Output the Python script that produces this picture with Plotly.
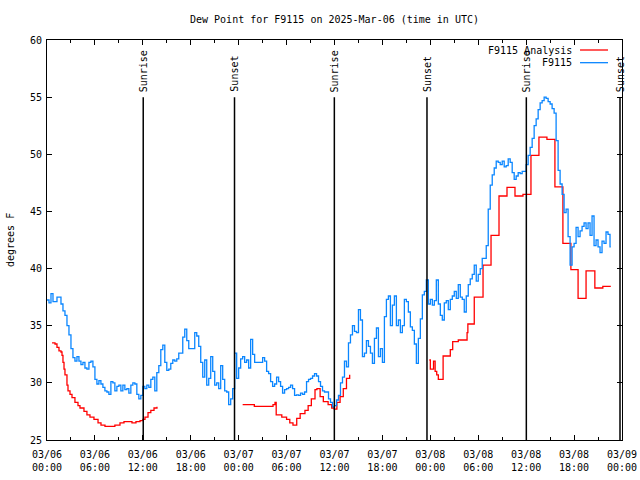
import pandas as pd
import plotly.graph_objects as go

# ---------------- data ----------------
title_text = "Dew Point for F9115 on 2025-Mar-06 (time in UTC)"
y_title = "degrees F"
start_time = "2025-03-06 00:00"

# F9115 observations, one value every 15 minutes from 03/06 00:00
obs_step_minutes = 15
obs_values = [
    37.25, 37.0, 37.8, 37.1,  37.1, 37.5, 37.5, 36.9,  36.3, 35.9, 35.0, 34.2,
    33.0, 32.2, 31.9, 32.3,  31.9, 31.6, 31.8, 31.3,  31.2, 31.8, 31.9, 31.4,
    30.3, 29.9, 30.2, 29.9,  29.6, 29.3, 29.2, 29.0,  30.1, 30.0, 29.3, 29.7,
    29.8, 29.3, 29.8, 29.4,  29.5, 29.1, 29.8, 30.0,  29.9, 29.0, 28.6, 28.9,
    29.7, 29.5, 29.8, 29.6,  30.3, 30.5, 29.3, 30.9,  31.5, 32.9, 33.3, 31.8,
    31.1, 31.2, 31.7, 32.0,  31.9, 32.1, 32.6, 32.6,  34.0, 34.7, 33.7, 33.0,
    33.0, 33.0, 34.4, 34.1,  33.2, 31.8, 30.5, 32.0,  29.8, 30.4, 32.3, 31.0,
    29.8, 30.0, 29.5, 31.5,  30.3, 29.3, 29.2, 28.1,  28.6, 29.5, 32.6, 30.4,
    31.3, 32.1, 32.3, 31.8,  32.0, 31.3, 33.8, 32.5,  31.8, 31.8, 31.8, 31.8,
    32.2, 31.9, 31.0, 30.8,  30.1, 29.7, 29.9, 30.5,  30.1, 29.7, 29.1, 29.4,
    29.5, 29.6, 29.8, 29.5,  28.9, 28.95, 28.9, 29.1,  29.0, 29.2, 30.1, 30.3,
    30.4, 30.6, 30.8, 30.6,  30.1, 29.7, 29.3, 29.2,  29.2, 28.6, 28.3, 27.9,
    28.0, 28.5, 28.9, 30.0,  30.5, 31.9, 31.4, 33.5,  34.2, 35.0, 34.5, 34.4,
    36.4, 35.5, 32.3, 32.6,  33.7, 33.2, 32.6, 31.7,  33.9, 34.8, 32.3, 33.0,
    31.8, 35.8, 37.3, 37.6,  35.0, 36.8, 37.6, 35.0,  35.5, 34.4, 35.0, 37.3,
    37.1, 36.2, 34.9, 34.6,  33.4, 31.7, 33.9, 35.6,  37.7, 38.0, 39.0, 36.9,
    37.3, 36.8, 37.2, 39.0,  36.9, 35.9, 35.5, 37.0,  37.2, 36.4, 37.3, 37.6,
    38.0, 37.4, 38.6, 37.5,  37.3, 36.2, 37.6, 38.6,  39.1, 39.5, 40.3, 38.9,
    39.5, 40.0, 40.9, 40.9,  42.0, 45.2, 47.3, 48.2,  48.8, 49.4, 49.3, 49.1,
    49.4, 48.9, 49.0, 49.6,  49.3, 48.4, 47.8, 48.1,  48.4, 48.3, 48.5, 48.5,
    49.1, 49.9, 50.6, 51.4,  52.5, 53.1, 53.9, 54.5,  54.7, 55.0, 54.9, 54.6,
    54.4, 54.0, 53.6, 51.2,  48.6, 47.4, 46.5, 44.9,  45.2, 42.8, 40.3, 41.9,
    42.2, 43.6, 42.8, 43.3,  43.7, 44.0, 43.5, 44.0,  42.9, 44.6, 42.0, 42.5,
    41.9, 41.4, 42.4, 42.2,  43.2, 43.0, 41.9,
]
obs_end_hour = 70.6

# F9115 Analysis: (hours since start, value) in three separate runs
ana_run1_hours = [0.63, 1.0, 1.25, 1.5, 1.75, 1.88, 2.0, 2.13, 2.25, 2.5, 2.63, 2.88, 3.13, 3.5,
                  3.88, 4.13, 4.63, 5.0, 5.38, 5.88, 6.39, 6.76, 7.26, 8.5, 9.14, 9.64, 10.64,
                  11.14, 11.65, 12.0, 12.27, 12.65, 13.0, 13.4, 13.77]
ana_run1_values = [33.5, 33.4, 33.1, 32.8, 32.7, 32.4, 31.8, 31.2, 30.7, 29.8, 29.3, 29.0, 28.7, 28.3,
                   28.0, 27.8, 27.5, 27.2, 27.0, 26.8, 26.5, 26.3, 26.2, 26.3, 26.5, 26.6, 26.5,
                   26.6, 26.7, 26.8, 27.0, 27.4, 27.6, 27.8, 27.9]
ana_run2_hours = [24.5, 25.96, 28.3, 28.55, 28.7, 29.4, 30.0, 30.4, 30.8, 31.27, 31.7, 32.3, 32.7,
                  33.1, 33.56, 33.8, 34.2, 34.6, 35.2, 35.65, 35.97, 36.3, 36.7, 37.1, 37.5, 37.9]
ana_run2_values = [28.1, 27.95, 28.1, 28.3, 27.2, 27.0, 26.8, 26.5, 26.3, 26.9, 27.3, 27.6, 28.0,
                   28.6, 29.4, 29.5, 28.8, 28.35, 28.1, 27.8, 27.7, 28.3, 28.8, 29.5, 30.4, 30.7]
ana_run3_hours = [47.87, 48.0, 48.4, 48.6, 48.8, 49.0, 49.6, 50.5, 50.8, 51.5, 52.6, 52.7, 53.5,
                  54.6, 55.6, 56.6, 57.6, 58.6, 59.6, 60.6, 61.6, 62.6, 63.6, 64.6, 65.6, 66.5,
                  67.5, 68.6, 69.6, 70.6]
ana_run3_values = [32.0, 31.2, 31.9, 31.0, 30.7, 30.3, 32.35, 32.9, 33.6, 33.75, 34.4, 35.15, 37.5,
                   40.3, 42.9, 46.35, 47.1, 46.35, 46.5, 49.9, 51.5, 51.3, 47.15, 42.2, 39.9, 37.4,
                   39.8, 38.3, 38.45, 38.45]

# sunrise / sunset markers (hours since start)
sun_hours = [12.05, 23.48, 35.98, 47.58, 60.02, 71.75]
sun_labels = ["Sunrise", "Sunset", "Sunrise", "Sunset", "Sunrise", "Sunset"]
sun_line_top = 55

x_tick_hours = [0, 6, 12, 18, 24, 30, 36, 42, 48, 54, 60, 66, 72]
x_tick_labels = ["03/06<br>00:00", "03/06<br>06:00", "03/06<br>12:00", "03/06<br>18:00",
                 "03/07<br>00:00", "03/07<br>06:00", "03/07<br>12:00", "03/07<br>18:00",
                 "03/08<br>00:00", "03/08<br>06:00", "03/08<br>12:00", "03/08<br>18:00",
                 "03/09<br>00:00"]
y_range = [25, 60]
y_tick_step = 5

series_names = ["F9115 Analysis", "F9115"]
series_colors = ["#ff0000", "#0a86ff"]

# ---------------- build ----------------
t0 = pd.Timestamp(start_time)
def at(h):
    return t0 + pd.Timedelta(hours=h)

obs_x = [t0 + pd.Timedelta(minutes=obs_step_minutes * i) for i in range(len(obs_values))]
obs_x.append(at(obs_end_hour))
obs_y = list(obs_values) + [obs_values[-1]]

ana_x, ana_y = [], []
for hs, vs in [(ana_run1_hours, ana_run1_values), (ana_run2_hours, ana_run2_values),
               (ana_run3_hours, ana_run3_values)]:
    ana_x += [at(h) for h in hs] + [None]
    ana_y += list(vs) + [None]

FONT = "DejaVu Sans Mono"
FIG_W, FIG_H = 640, 480

fig = go.Figure()
fig.add_trace(go.Scatter(x=ana_x, y=ana_y, mode="lines", name=series_names[0],
                         line=dict(color=series_colors[0], width=1.3, shape="hv"),
                         connectgaps=False, showlegend=False))
fig.add_trace(go.Scatter(x=obs_x, y=obs_y, mode="lines", name=series_names[1],
                         line=dict(color=series_colors[1], width=1.3, shape="hv"),
                         showlegend=False))

shapes = []
annotations = []
for h, lab in zip(sun_hours, sun_labels):
    shapes.append(dict(type="line", xref="x", yref="y", x0=at(h), x1=at(h),
                       y0=y_range[0], y1=sun_line_top, line=dict(color="black", width=1.5)))
    annotations.append(dict(x=at(h), y=sun_line_top, xref="x", yref="y", text=lab,
                            textangle=-90, showarrow=False, xanchor="center", yanchor="bottom",
                            yshift=3, font=dict(family=FONT, size=10, color="black")))

# legend drawn gnuplot style: text right-aligned, sample line to the right
for i, (nm, col) in enumerate(zip(series_names, series_colors)):
    yy = 0.975 - i * 0.0317
    annotations.append(dict(x=0.9165, y=yy, xref="paper", yref="paper", text=nm,
                            showarrow=False, xanchor="right", yanchor="middle",
                            font=dict(family=FONT, size=10, color="black")))
    shapes.append(dict(type="line", xref="paper", yref="paper", x0=0.927, x1=0.9757,
                       y0=yy, y1=yy, line=dict(color=col, width=1.3)))

annotations.append(dict(x=-0.0643, y=0.5, xref="paper", yref="paper", text=y_title,
                        textangle=-90, showarrow=False, xanchor="center", yanchor="middle",
                        font=dict(family=FONT, size=10, color="black")))

fig.update_layout(
    width=FIG_W, height=FIG_H,
    margin=dict(l=47, r=18, t=40, b=40),
    paper_bgcolor="white", plot_bgcolor="white",
    font=dict(family=FONT, size=10, color="black"),
    title=dict(text=title_text, x=0.5, xref="paper", y=1 - 19 / FIG_H, yref="container",
               xanchor="center", yanchor="middle", font=dict(family=FONT, size=10)),
    shapes=shapes, annotations=annotations, showlegend=False,
)
fig.update_xaxes(
    range=[at(0), at(72)], type="date",
    tickvals=[at(h) for h in x_tick_hours], ticktext=x_tick_labels,
    ticks="inside", ticklen=5, tickcolor="black", tickwidth=1,
    showline=True, linecolor="black", linewidth=1, mirror="ticks",
    showgrid=False, zeroline=False, ticklabelstandoff=5, automargin=False,
    minor=dict(tickvals=[at(h + 3) for h in x_tick_hours[:-1]], ticks="inside", ticklen=3,
               tickcolor="black", showgrid=False),
)
fig.update_yaxes(
    range=y_range, dtick=y_tick_step, tick0=y_range[0],
    ticks="inside", ticklen=5, tickcolor="black", tickwidth=1,
    showline=True, linecolor="black", linewidth=1, mirror="ticks",
    showgrid=False, zeroline=False, ticklabelstandoff=2, automargin=False,
)

# remove the browser's default 8px page margin so the 640x480 figure fills the window
fig.write_html("out.html",
               config={"displayModeBar": False, "staticPlot": True},
               post_script="document.body.style.margin='0';document.body.style.overflow='hidden';")
